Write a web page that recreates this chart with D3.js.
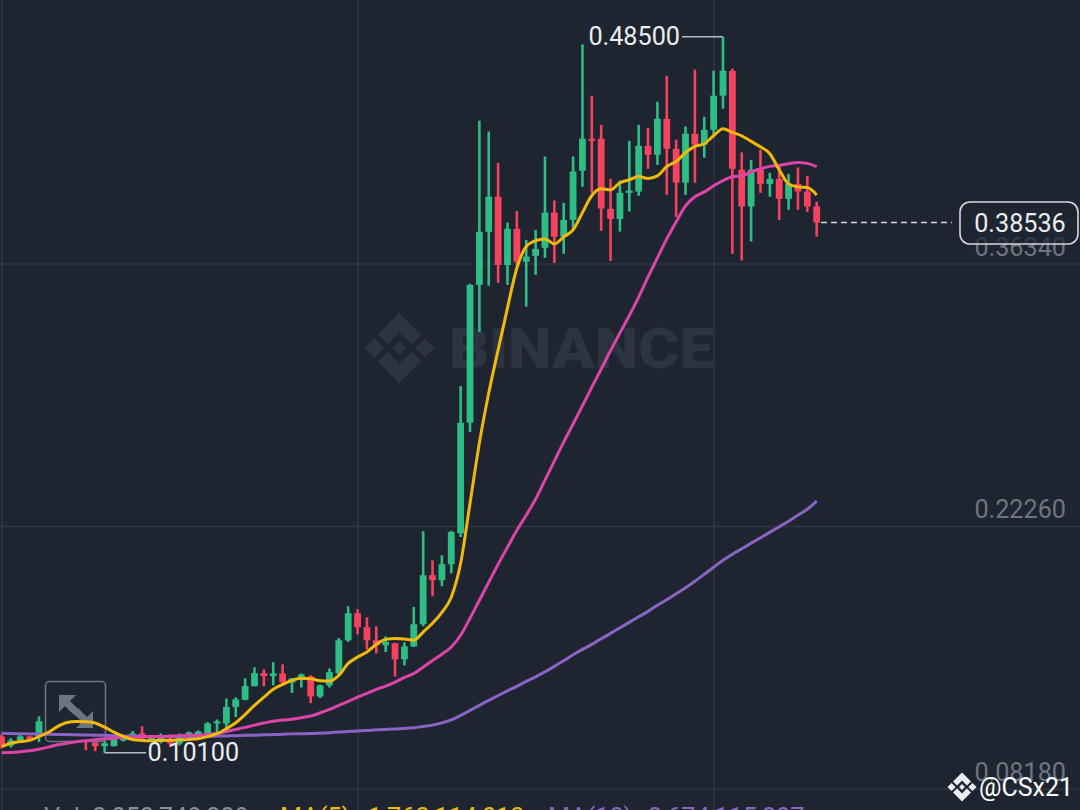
<!DOCTYPE html>
<html><head><meta charset="utf-8">
<style>html,body{margin:0;padding:0;background:#1f2530;overflow:hidden}svg{display:block}text{font-family:Roboto,"Noto Sans",sans-serif}</style>
<script src="https://cdnjs.cloudflare.com/ajax/libs/d3/7.8.5/d3.min.js"></script>
</head><body><svg id="c" width="1080" height="810"></svg>
<script>
const opens=[.1097,.1049,.1078,.1097,.1099,.1103,.1124,.1097,.1113,.1103,.1065,.1045,.1046,.1076,.1092,.1113,.1081,.1070,.1081,.1060,.1092,.1103,.1113,.1167,.1167,.1255,.1294,.1367,.1437,.1421,.1435,.1387,.1403,.1419,.1312,.1371,.1435,.1613,.1758,.1683,.1613,.1586,.1597,.1511,.1580,.1699,.1962,.1935,.2021,.2187,.2780,.3519,.3804,.3992,.3626,.3820,.3644,.3675,.3718,.3907,.3778,.3868,.4131,.4303,.4303,.3927,.3873,.4013,.4020,.4265,.4217,.4410,.4249,.4068,.4330,.4271,.4351,.4534,.4667,.4137,.3940,.4137,.4061,.4088,.3981,.4061,.4020,.3940];
const highs=[.1108,.1088,.1108,.1103,.1205,.1151,.1140,.1135,.1129,.1119,.1097,.1086,.1097,.1097,.1126,.1151,.1103,.1113,.1092,.1113,.1124,.1129,.1174,.1188,.1301,.1307,.1409,.1468,.1457,.1496,.1484,.1409,.1435,.1425,.1376,.1462,.1625,.1795,.1779,.1736,.1688,.1634,.1600,.1602,.1792,.2198,.2042,.2069,.2200,.2977,.3525,.4400,.4342,.4174,.3854,.3916,.3761,.3814,.4208,.3972,.3959,.4208,.4809,.4534,.4378,.4088,.4079,.4292,.4378,.4362,.4502,.4641,.4298,.4369,.4674,.4421,.4668,.4850,.4679,.4230,.4190,.4244,.4120,.4163,.4115,.4149,.4104,.3965];
const lows=[.1033,.1038,.1070,.1076,.1067,.1092,.1086,.1081,.1076,.1024,.1018,.1010,.1043,.1070,.1081,.1081,.1070,.1060,.1040,.1049,.1086,.1092,.1103,.1119,.1119,.1201,.1291,.1366,.1367,.1371,.1371,.1330,.1360,.1276,.1303,.1360,.1430,.1604,.1645,.1564,.1543,.1550,.1419,.1478,.1577,.1688,.1849,.1903,.1972,.2167,.2730,.3267,.3515,.3530,.3519,.3621,.3403,.3573,.3664,.3637,.3686,.3814,.4045,.4013,.3809,.3648,.3805,.3913,.3997,.4142,.4163,.4002,.3884,.4002,.4067,.4201,.4325,.4464,.3686,.3650,.3752,.4013,.3992,.3868,.3922,.3922,.3911,.3778];
const closes=[.1049,.1076,.1097,.1078,.1179,.1129,.1103,.1119,.1092,.1076,.1045,.1061,.1086,.1086,.1113,.1086,.1092,.1092,.1060,.1103,.1119,.1124,.1167,.1178,.1255,.1296,.1367,.1437,.1421,.1435,.1389,.1409,.1430,.1312,.1371,.1442,.1613,.1758,.1683,.1613,.1586,.1604,.1511,.1580,.1699,.1962,.1935,.2021,.2194,.2780,.3519,.3804,.3992,.3626,.3820,.3643,.3671,.3712,.3907,.3778,.3868,.4127,.4303,.4292,.3929,.3873,.4013,.4025,.4265,.4217,.4410,.4249,.4068,.4330,.4271,.4351,.4534,.4668,.4142,.3940,.4137,.4061,.4088,.3981,.4061,.4020,.3940,.38536];
const ma7=[.1043,.1061,.1070,.1076,.1097,.1120,.1151,.1172,.1178,.1176,.1169,.1147,.1120,.1097,.1081,.1076,.1074,.1076,.1077,.1079,.1081,.1085,.1097,.1112,.1139,.1171,.1215,.1264,.1308,.1350,.1376,.1398,.1409,.1407,.1396,.1394,.1425,.1489,.1523,.1550,.1591,.1618,.1623,.1620,.1613,.1657,.1704,.1763,.1844,.2026,.2348,.2671,.2939,.3170,.3396,.3610,.3725,.3757,.3766,.3739,.3777,.3814,.3907,.3999,.4035,.4029,.4067,.4083,.4101,.4090,.4104,.4154,.4181,.4228,.4262,.4276,.4319,.4357,.4337,.4319,.4289,.4260,.4223,.4137,.4061,.4045,.4042,.4002];
const ma25=[.1010,.1011,.1015,.1020,.1029,.1040,.1053,.1061,.1069,.1074,.1079,.1085,.1088,.1092,.1093,.1096,.1097,.1097,.1099,.1101,.1103,.1104,.1108,.1113,.1124,.1135,.1146,.1158,.1169,.1179,.1185,.1190,.1198,.1207,.1223,.1242,.1264,.1285,.1308,.1328,.1350,.1367,.1389,.1414,.1435,.1469,.1505,.1538,.1577,.1640,.1731,.1828,.1924,.2021,.2112,.2203,.2284,.2370,.2472,.2574,.2676,.2773,.2871,.2971,.3068,.3167,.3261,.3355,.3454,.3562,.3664,.3766,.3857,.3943,.3992,.4018,.4051,.4079,.4099,.4104,.4126,.4142,.4155,.4160,.4169,.4176,.4171,.4153];
const ma99=[.1115,.1113,.1112,.1111,.1110,.1109,.1108,.1107,.1106,.1105,.1104,.1103,.1101,.1100,.1099,.1098,.1097,.1097,.1097,.1097,.1097,.1098,.1098,.1099,.1100,.1101,.1103,.1104,.1106,.1107,.1109,.1111,.1112,.1113,.1115,.1117,.1121,.1124,.1127,.1129,.1133,.1135,.1137,.1140,.1144,.1151,.1158,.1170,.1186,.1210,.1237,.1264,.1291,.1317,.1342,.1366,.1393,.1417,.1444,.1473,.1503,.1535,.1564,.1591,.1621,.1650,.1680,.1709,.1739,.1768,.1801,.1830,.1862,.1895,.1930,.1967,.2005,.2042,.2075,.2104,.2134,.2163,.2193,.2222,.2252,.2284,.2316,.2359];
const yTicks=[.3634,.2226,.0818];
const gridIndex=[0,38,76];
const highMark={i:77,v:.485,label:"0.48500"};
const lowMark={i:11,v:.101,label:"0.10100"};
const lastPrice=.38536;
const footer=[["Vol: 3,050,748,228",44,"#848e9c"],["MA(5):",280,"#f0b90b"],["1,763,114,013",368,"#f0b90b"],["MA(10):",548,"#8a63c4"],["2,674,115,207",648,"#8a63c4"]];

const GREEN="#2ebd85",RED="#f5425f",BG="#1f2530",GRID="#2f3542",TICK="#6e7581",WM="#2d333f";
const svg=d3.select("#c");
const x=d3.scaleLinear().domain([0,87]).range([1.5,816.7]);
const y=d3.scaleLinear().domain([.0818,.3634]).range([788.5,263.5]);

function logo(g,cx,cy,r,fill){
  const s=r;
  const polys=[
    [[0,-.32],[.32,0],[0,.32],[-.32,0]].map(p=>[p[0]*.62,p[1]*.62]),
    [[-1,0],[-.72,-.28],[-.44,0],[-.72,.28]],
    [[1,0],[.72,-.28],[.44,0],[.72,.28]],
    [[0,-1],[.62,-.38],[.34,-.10],[0,-.44],[-.34,-.10],[-.62,-.38]],
    [[0,1],[.62,.38],[.34,.10],[0,.44],[-.34,.10],[-.62,.38]]
  ];
  g.selectAll(null).data(polys).join("polygon")
    .attr("points",p=>p.map(q=>[cx+q[0]*s,cy+q[1]*s].join(",")).join(" ")).attr("fill",fill);
}

svg.append("rect").attr("width",1080).attr("height",810).attr("fill",BG);

const wm=svg.append("g");
logo(wm,399.5,348,35,WM);
wm.append("text").attr("x",449).attr("y",368).attr("font-size",56).attr("font-weight",900)
  .attr("textLength",265).attr("lengthAdjust","spacingAndGlyphs").attr("fill",WM).text("BINANCE");

const gy=svg.append("g")
  .call(d3.axisRight(y).tickValues(yTicks).tickSize(1080).tickFormat(""));
gy.select(".domain").remove();
gy.selectAll("line").attr("stroke",GRID).attr("stroke-width",1.5);
const gx=svg.append("g")
  .call(d3.axisBottom(x).tickValues(gridIndex).tickSize(810).tickFormat(""));
gx.select(".domain").remove();
gx.selectAll("line").attr("stroke",GRID).attr("stroke-width",1.5);

const idx=d3.range(opens.length);
const col=i=>closes[i]>=opens[i]?GREEN:RED;
const cg=svg.append("g");
cg.selectAll("line").data(idx).join("line")
  .attr("x1",i=>x(i)).attr("x2",i=>x(i)).attr("y1",i=>y(highs[i])).attr("y2",i=>y(lows[i]))
  .attr("stroke",col).attr("stroke-width",2.6);
cg.selectAll("rect").data(idx).join("rect")
  .attr("x",i=>x(i)-3.4).attr("width",6.8)
  .attr("y",i=>y(Math.max(opens[i],closes[i])))
  .attr("height",i=>Math.max(1.5,Math.abs(y(opens[i])-y(closes[i]))))
  .attr("fill",col);

svg.append("rect").attr("x",45.5).attr("y",681.5).attr("width",60).attr("height",60).attr("rx",4)
  .attr("fill",BG).attr("stroke","#6e7581").attr("stroke-width",1.5);
const ic="#6e7581";
svg.append("polygon").attr("points","59,695 76,695 70,701 79,710 74,715 65,706 59,712").attr("fill",ic);
svg.append("polygon").attr("points","93,728 76,728 82,722 73,713 78,708 87,717 93,711").attr("fill",ic);

const line=d3.line().x((d,i)=>x(i)).y(d=>y(d)).curve(d3.curveMonotoneX);
[[ma99,"#8a63c4"],[ma25,"#dc44aa"],[ma7,"#f0b90b"]].forEach(([d,c])=>{
  svg.append("path").attr("d",line(d)).attr("fill","none").attr("stroke",c)
    .attr("stroke-width",3).attr("stroke-linejoin","round");
});

const ax=svg.append("g").attr("transform","translate(1066,0)")
  .call(d3.axisLeft(y).tickValues(yTicks).tickSize(0).tickPadding(0).tickFormat(d3.format(".5f")));
ax.select(".domain").remove();
ax.selectAll("text").attr("font-size",25.2).attr("fill",TICK).attr("y",-8.5).attr("dy",0).attr("font-family","Roboto");

svg.append("line").attr("x1",x(highMark.i)).attr("x2",682).attr("y1",y(highMark.v)).attr("y2",y(highMark.v))
  .attr("stroke","#b7bdc6").attr("stroke-width",1.5);
svg.append("text").attr("x",680).attr("y",y(highMark.v)+8).attr("text-anchor","end")
  .attr("font-size",25.2).attr("fill","#eaecef").text(highMark.label);
svg.append("line").attr("x1",x(lowMark.i)).attr("x2",146).attr("y1",y(lowMark.v)).attr("y2",y(lowMark.v))
  .attr("stroke","#b7bdc6").attr("stroke-width",1.5);
svg.append("text").attr("x",147.5).attr("y",y(lowMark.v)+8.5)
  .attr("font-size",25.2).attr("fill","#eaecef").text(lowMark.label);

svg.append("line").attr("x1",821).attr("x2",952).attr("y1",y(lastPrice)).attr("y2",y(lastPrice))
  .attr("stroke","#d5d8dc").attr("stroke-width",1.5).attr("stroke-dasharray","6,4");
svg.append("rect").attr("x",960).attr("y",202).attr("width",118).attr("height",42).attr("rx",10)
  .attr("fill",BG).attr("fill-opacity",.72).attr("stroke","#d5d8dc").attr("stroke-width",1.6);
svg.append("text").attr("x",1020).attr("y",y(lastPrice)+9).attr("text-anchor","middle")
  .attr("font-size",25.2).attr("fill","#eaecef").text(d3.format(".5f")(lastPrice));

svg.append("g").selectAll("text").data(footer).join("text")
  .attr("x",d=>d[1]).attr("y",826).attr("font-size",25.2).attr("fill",d=>d[2]).text(d=>d[0]);

logo(svg.append("g"),962,787,14.5,"#eaecef");
svg.append("text").attr("x",979).attr("y",796).attr("font-size",25).attr("fill","#ffffff").text("@CSx21");
</script></body></html>
